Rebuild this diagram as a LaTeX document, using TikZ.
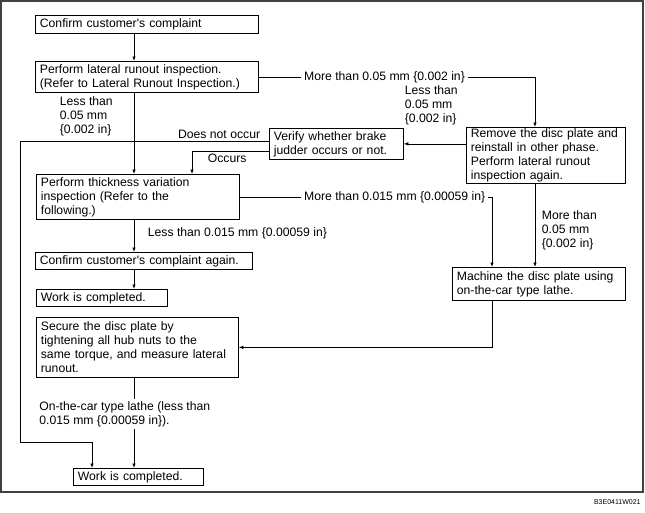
\documentclass[tikz,border=0pt]{standalone}
\usepackage{fontspec}
\setmainfont{Liberation Sans}
\usetikzlibrary{arrows.meta}

\begin{document}
\begin{tikzpicture}[x=1pt, y=-1pt, line width=0.75pt,
  font=\fontsize{12.2}{14}\selectfont,
  box/.style={draw, anchor=north west, align=left, inner xsep=4.5pt, inner ysep=1pt},
  tag/.style={align=left, inner sep=1.5pt},
  gap/.style={tag, fill=white, inner xsep=3pt},
  arr/.style={-{Latex[length=4.5pt, width=3.5pt]}}]
  \useasboundingbox (0,0) rectangle (645,512);

  % Frame
  \draw[black!75, line width=1.2pt] (1,1) rectangle (643,492);
  \node[anchor=east, font=\fontsize{7}{8}\selectfont, inner sep=0pt] (figid) at (641,502) {B3E0411W021};

  % Guide lines for the connectors
  \coordinate (mainx) at (134,0);
  \coordinate (remx) at (535,0);
  \coordinate (machx) at (492,0);
  \coordinate (occx) at (192,0);
  \coordinate (leftx) at (20,0);
  \coordinate (finx) at (92,0);
  \coordinate (lowy) at (0,442);

  % Steps
  \node[box, text width=214pt, minimum height=18pt] (confirm) at (35,15) {Confirm customer\textquotesingle s complaint};
  \node[box, text width=214pt, minimum height=31pt] (lateral) at (35,61) {Perform lateral runout inspection.\\(Refer to Lateral Runout Inspection.)};
  \node[box, text width=150pt, minimum height=56pt] (remove) at (466,127) {Remove the disc plate and\\reinstall in other phase.\\Perform lateral runout\\inspection again.};
  \node[box, text width=125pt, minimum height=31pt] (verify) at (269,128) {Verify whether brake\\judder occurs or not.};
  \node[box, text width=194pt, minimum height=45pt] (thick) at (36,174) {Perform thickness variation\\inspection (Refer to the\\following.)};
  \node[box, text width=208pt, minimum height=17pt] (again) at (35,252) {Confirm customer\textquotesingle s complaint again.};
  \node[box, text width=122pt, minimum height=17pt] (done) at (36,289) {Work is completed.};
  \node[box, text width=193pt, minimum height=60pt] (secure) at (36,317) {Secure the disc plate by\\tightening all hub nuts to the\\same torque, and measure lateral\\runout.};
  \node[box, text width=164pt, minimum height=33pt] (machine) at (452,267) {Machine the disc plate using\\on-the-car type lathe.};
  \node[box, text width=121pt, minimum height=17pt] (final) at (73,468) {Work is completed.};

  % Connectors
  \draw[arr] (confirm.south -| mainx) -- (lateral.north -| mainx);
  \draw[arr] (lateral.east) -- (lateral.east -| remx) -- (remove.north -| remx);
  \draw[arr] (verify.east -| remove.west) -- (verify.east);
  \draw[arr] ([yshift=2.5pt]verify.west) -| (leftx |- lowy) -- (finx |- lowy) -- (final.north -| finx);
  \draw[arr] ([yshift=-7pt]verify.west) -| (occx |- thick.north);
  \draw[arr] (lateral.south -| mainx) -- (thick.north -| mainx);
  \draw[arr] (thick.east) -| (machx |- machine.north);
  \draw[arr] (remove.south -| remx) -- (machine.north -| remx);
  \draw[arr] (thick.south -| mainx) -- (again.north -| mainx);
  \draw[arr] (again.south -| mainx) -- (done.north -| mainx);
  \draw[arr] (machine.south -| machx) |- (secure.east);
  \draw[arr] (secure.south -| mainx) -- (final.north -| mainx);

  % Labels
  \node[gap, anchor=west] (over1) at ([xshift=42pt]lateral.east) {More than 0.05 mm \{0.002 in\}};
  \node[tag, anchor=north west] (under1) at (403,84) {Less than\\0.05 mm\\\{0.002 in\}};
  \node[tag, anchor=east] (noocc) at (262,134) {Does not occur};
  \node[tag, anchor=west] (occ) at (206,158) {Occurs};
  \node[tag, anchor=north west] (under2) at (58,95) {Less than\\0.05 mm\\\{0.002 in\}};
  \node[gap, anchor=west] (over2) at ([xshift=61pt]thick.east) {More than 0.015 mm \{0.00059 in\}};
  \node[tag, anchor=north west] (over3) at (540,209) {More than\\0.05 mm\\\{0.002 in\}};
  \node[tag, anchor=west] (under3) at (146,233) {Less than 0.015 mm \{0.00059 in\}};
  \node[gap, anchor=north west, inner ysep=2pt] (lathe) at (36,399) {On-the-car type lathe (less than\\0.015 mm \{0.00059 in\}).};
\end{tikzpicture}
\end{document}
